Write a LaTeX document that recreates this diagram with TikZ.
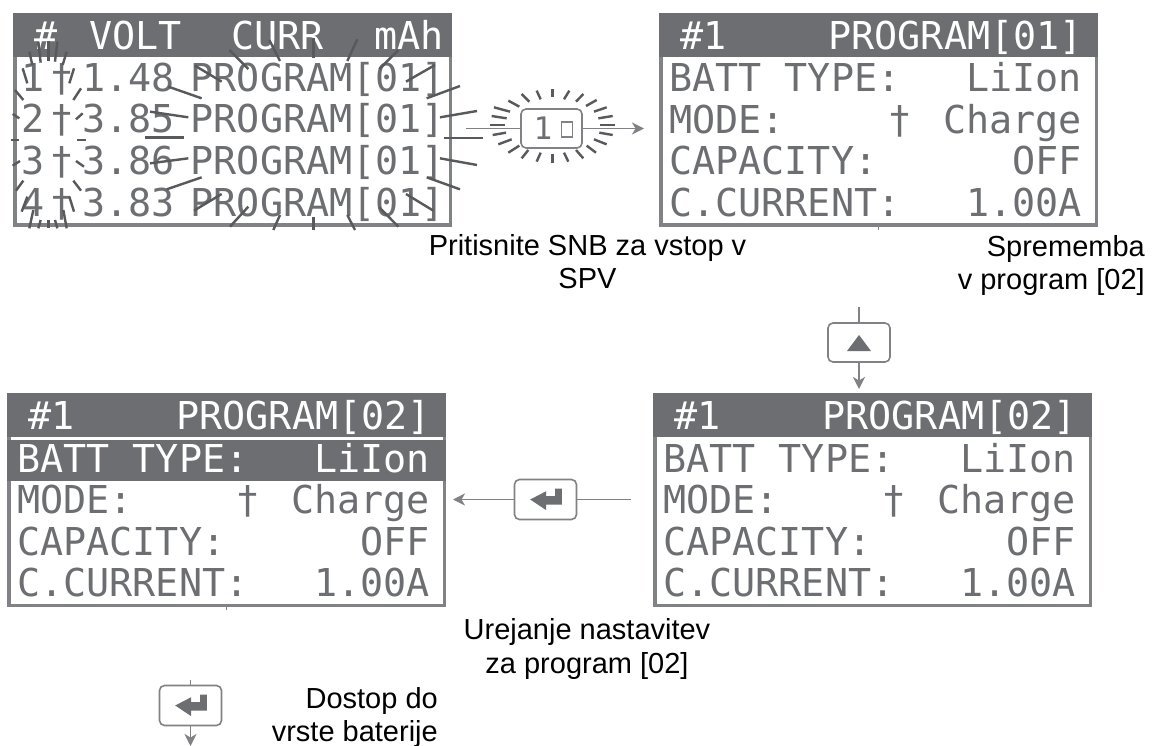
\documentclass[tikz,border=0pt]{standalone}
\usepackage{fontspec}
\setmainfont{Liberation Sans}
\newfontfamily\lcdfont{DejaVu Sans Mono}
\usetikzlibrary{arrows.meta}
\definecolor{lcdgrey}{HTML}{6D6E71}
\definecolor{raygrey}{HTML}{58595B}
\definecolor{linegrey}{HTML}{808285}
\tikzset{
  lcdtext/.style={font=\lcdfont\fontsize{38.4}{40}\selectfont,inner sep=0pt,text=lcdgrey},
  lcdwhite/.style={lcdtext,text=white},
  screenbox/.style={draw=linegrey,line width=3.5pt,fill=white,minimum width=435.5pt,minimum height=210.5pt,inner sep=0pt},
  keybox/.style={draw=linegrey,line width=1.6pt,rounded corners=5pt,fill=white,inner sep=0pt},
  conn/.style={draw=linegrey,line width=1.5pt},
  connarrow/.style={conn,-{Stealth[length=12pt,width=12pt,inset=3.5pt]}},
  ray/.style={draw=raygrey,line width=2.4pt},
  caption/.style={font=\fontsize{29}{30}\selectfont,inner sep=0pt,text=black},
}
% #1 name, #2 left x of box, #3 top y of box, #4 program, #5 style of first row, #6 band colour
\newcommand{\setscreen}[6]{%
  \node[screenbox,anchor=north west] (#1) at (#2,#3) {};
  \fill[lcdgrey] (#2,#3) rectangle (#2+439,#3+44);
  \path[fill=#6] (#2,#3+46.5) rectangle (#2+439,#3+88);
  \node[lcdwhite,anchor=base west] (#1h) at (#2+21,#3+36.5) {\#1};
  \node[lcdwhite,anchor=base east] (#1p) at (#2+424,#3+36.5) {PROGRAM[#4]};
  \node[#5,anchor=base west] (#1a) at (#2+10,#3+79) {BATT TYPE:};
  \node[#5,anchor=base east] (#1b) at (#2+423,#3+79) {LiIon};
  \node[lcdtext,anchor=base west] (#1c) at (#2+10,#3+120.5) {MODE:};
  \node[lcdtext,anchor=base] (#1d) at (#2+241,#3+120.5) {†};
  \node[lcdtext,anchor=base east] (#1e) at (#2+423,#3+120.5) {Charge};
  \node[lcdtext,anchor=base west] (#1f) at (#2+10,#3+162) {CAPACITY:};
  \node[lcdtext,anchor=base east] (#1g) at (#2+423,#3+162) {OFF};
  \node[lcdtext,anchor=base west] (#1i) at (#2+10,#3+203.5) {C.CURRENT:};
  \node[lcdtext,anchor=base east] (#1j) at (#2+423,#3+203.5) {1.00A};
}
\newcommand{\entericon}[1]{%
  \begin{scope}[shift={(#1.center)}]
    \fill[lcdgrey] (-15.3,0) -- (0.7,-8.3) -- (0.7,-3.3) -- (9.7,-3.3) -- (9.7,-11) -- (16.3,-11) -- (16.3,5) -- (0.7,5) -- (0.7,10.7) -- cycle;
  \end{scope}}
\begin{document}
\begin{tikzpicture}[x=1pt,y=-1pt]
\path[use as bounding box,fill=white] (0,0) rectangle (1152,746);

% ---------- screen 1
\node[screenbox,anchor=north west] (s1) at (13,13) {};
\fill[lcdgrey] (13,13) rectangle (452,57);
\node[lcdwhite,anchor=base] (s1h1) at (46,50) {\#};
\node[lcdwhite,anchor=base west] (s1h2) at (89,50) {VOLT};
\node[lcdwhite,anchor=base west] (s1h3) at (231,50) {CURR};
\node[lcdwhite,anchor=base east] (s1h4) at (444,50) {mAh};
\foreach \r/\y/\n/\v in {1/92/1/1.48,2/133/2/3.85,3/175/3/3.86,4/217/4/3.83}{
  \node[lcdtext,anchor=base] (n\r) at (33,\y) {\n};
  \node[lcdtext,anchor=base] (d\r) at (62,\y) {†};
  \node[lcdtext,anchor=base west] (v\r) at (82,\y) {\v};
  \node[lcdtext,anchor=base west] (p\r) at (190.5,\y) {PROGRAM[01]};
}
% flash rays (coordinates read at 3x)
\begin{scope}[x=0.33333pt,y=-0.33333pt]
\foreach \a/\b/\c/\d in {
 88/155/97/195,115/125/122/188,145/122/145/182,172/125/165/185,200/155/188/195,
 68/205/82/250,222/205/208/250,45/270/70/300,243/265/220/300,38/342/58/355,248/340/228/358,
 33/420/58/420,232/420/258/420,38/497/60/483,228/483/252/500,48/572/70/542,220/542/243/572,
 65/635/82/590,208/590/222/635,88/685/100/630,190/630/200/685,115/685/122/660,145/685/145/660,172/685/165/660,
 688/150/745/207,808/120/840/183,940/115/940/175,1072/118/1042/183,1195/150/1138/207,1305/195/1218/245,
 1380/258/1280/295,1431/333/1320/352,1449/414/1332/414,1431/495/1320/475,1380/568/1280/532,
 1300/632/1218/582,1195/680/1138/622,1065/690/1042/645,940/690/940/650,820/690/840/645,690/680/745/620,
 582/632/665/582,500/568/605/532,450/490/565/475,450/335/565/352,435/412/552/412,505/260/605/295,585/197/665/245}
  {\draw[ray] (\a,\b) -- (\c,\d);}
\end{scope}

% ---------- screens 2, 3, 4
\setscreen{s2}{659}{13}{01}{lcdtext}{none}
\setscreen{s4}{653}{393}{02}{lcdtext}{none}
\setscreen{s3}{7}{393}{02}{lcdwhite}{lcdgrey}

% ---------- key 1 with flash
\begin{scope}[shift={(490,80)},x=0.33333pt,y=-0.33333pt]
\foreach \a/\b/\c/\d in {
 188/28/188/52,140/32/152/58,95/42/118/65,55/62/88/80,12/82/60/95,5/108/50/115,0/135/45/135,
 8/165/48/158,25/193/65/178,55/218/88/197,95/235/115/210,140/245/152/218,188/248/188/222,
 235/245/222/218,280/235/258/210,318/218/290/197,350/193/312/178,368/165/328/158,375/135/330/135,
 368/108/325/115,350/82/312/95,320/60/288/78,280/42/258/65,238/32/222/58}
  {\draw[ray] (\a,\b) -- (\c,\d);}
\end{scope}
\coordinate (c1in) at (466,128.5);
\coordinate (c1out) at (644,128.5);
\node[keybox,minimum width=61pt,minimum height=39pt] (b1) at (551.5,128.5) {};
\draw[conn] (c1in) -- (b1.west);
\draw[connarrow] (b1.east) -- (c1out);
\node[anchor=base,font=\lcdfont\fontsize{31}{32}\selectfont,inner sep=0pt,text=lcdgrey] (b1t) at (543,140) {1};
\node[draw=linegrey,line width=1.5pt,minimum width=11pt,minimum height=15pt,inner sep=0pt] (b1s) at (567,129.5) {};

% ---------- key up
\coordinate (c2in) at (859,307);
\coordinate (c2out) at (859,389);
\node[keybox,minimum width=62pt,minimum height=39pt] (b2) at (859,342.5) {};
\draw[conn] (c2in) -- (b2.north);
\draw[connarrow] (b2.south) -- (c2out);
\fill[lcdgrey] (859,335) -- (871,351) -- (847,351) -- cycle;

% ---------- key enter (middle)
\coordinate (c3in) at (631,499.5);
\coordinate (c3out) at (453,499.5);
\node[keybox,minimum width=62pt,minimum height=40pt] (b3) at (545.5,499.5) {};
\draw[conn] (c3in) -- (b3.east);
\draw[connarrow] (b3.west) -- (c3out);
\entericon{b3}

% ---------- key enter (bottom)
\coordinate (c4in) at (190.5,680);
\coordinate (c4out) at (190.5,746);
\node[keybox,minimum width=62pt,minimum height=40pt] (b4) at (190.5,705.5) {};
\draw[conn] (c4in) -- (b4.north);
\draw[connarrow] (b4.south) -- (c4out);
\entericon{b4}

% small ticks under the screens
\coordinate (t2a) at (878,226); \coordinate (t2b) at (878,230);
\coordinate (t3a) at (226,607); \coordinate (t3b) at (226,610);
\draw[draw=linegrey,line width=1pt] (t2a) -- (t2b);
\draw[draw=linegrey,line width=1pt] (t3a) -- (t3b);

% ---------- captions
\node[caption,anchor=base] (l1) at (587.5,256) {Pritisnite SNB za vstop v};
\node[caption,anchor=base] (l2) at (587.5,289) {SPV};
\node[caption,anchor=base east] (l3) at (1145,257) {Sprememba};
\node[caption,anchor=base east] (l4) at (1145,290) {v program [02]};
\node[caption,anchor=base] (l5) at (587,639) {Urejanje nastavitev};
\node[caption,anchor=base] (l6) at (587,673) {za program [02]};
\node[caption,anchor=base east] (l7) at (438,708) {Dostop do};
\node[caption,anchor=base east] (l8) at (438,741) {vrste baterije};
\end{tikzpicture}
\end{document}
